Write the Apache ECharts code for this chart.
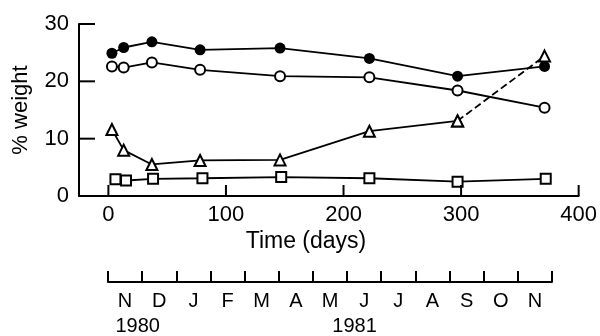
<!DOCTYPE html>
<html>
<head>
<meta charset="utf-8">
<script src="https://cdn.jsdelivr.net/npm/echarts@6/dist/echarts.min.js"></script>
<style>html,body{margin:0;padding:0;background:#fff}#c{width:600px;height:336px}</style>
</head>
<body>
<div id="c"></div>
<script>
var days = [3, 13, 37, 78, 146, 222, 297, 371];
var squareDays = [6, 15, 38, 80, 147, 222, 297, 372];
var filledCircle = [24.9, 25.9, 26.9, 25.5, 25.8, 24.0, 20.9, 22.6];
var openCircle = [22.6, 22.4, 23.3, 22.0, 20.9, 20.7, 18.4, 15.4];
var triangle = [11.6, 8.0, 5.5, 6.2, 6.3, 11.3, 13.1, 24.4];
var square = [2.9, 2.7, 3.0, 3.1, 3.3, 3.1, 2.5, 3.0];
var dayTicks = [0, 100, 200, 300, 400];
var weightTicks = [10, 20, 30];
var months = ['N', 'D', 'J', 'F', 'M', 'A', 'M', 'J', 'J', 'A', 'S', 'O', 'N'];
var yearLabels = ['1980', '1981'];
var yearPos = [0.87, 7.22];
var X_MIN = -25, X_MAX = 400, Y_MIN = 0, Y_MAX = 30;

var FONT = '"Liberation Sans", Arial, sans-serif';
function pairs(xs, ys) { return xs.map(function (x, i) { return [x, ys[i]]; }); }
var tri = pairs(days, triangle);

function tickSeries(data, horizontal, len) {
  return {
    type: 'custom', xAxisIndex: 0, yAxisIndex: 0, data: data, z: 20, clip: false, silent: true,
    renderItem: function (params, api) {
      var p = api.coord([api.value(0), api.value(1)]);
      var shape = horizontal
        ? { x1: p[0], y1: p[1], x2: p[0] + len, y2: p[1] }
        : { x1: p[0], y1: p[1], x2: p[0], y2: p[1] - len };
      return { type: 'line', shape: shape, style: { stroke: '#000', lineWidth: 2 } };
    }
  };
}

var chart = echarts.init(document.getElementById('c'));
chart.setOption({
  animation: false,
  backgroundColor: '#fff',
  grid: [
    { left: 79, top: 24, width: 500, height: 172 },
    { left: 108, top: 262, width: 444, height: 20 }
  ],
  xAxis: [
    {
      gridIndex: 0, type: 'value', min: X_MIN, max: X_MAX,
      axisLine: { onZero: false, lineStyle: { color: '#000', width: 2 } },
      axisTick: { show: false },
      axisLabel: { customValues: dayTicks, color: '#000', fontSize: 22, fontFamily: FONT, margin: 8 },
      splitLine: { show: false }
    },
    {
      gridIndex: 1, type: 'category', data: months, boundaryGap: true,
      axisLine: { lineStyle: { color: '#000', width: 2 } },
      axisTick: { show: true, interval: 0, inside: true, length: 11, lineStyle: { color: '#000', width: 2 } },
      axisLabel: { interval: 0, color: '#000', fontSize: 20, fontFamily: FONT, margin: 9 },
      splitLine: { show: false }
    }
  ],
  yAxis: [
    {
      gridIndex: 0, type: 'value', min: Y_MIN, max: Y_MAX, interval: 10,
      name: '% weight', nameLocation: 'middle', nameGap: 47,
      nameTextStyle: { fontSize: 22, fontFamily: FONT, color: '#000' },
      axisLine: { show: true, onZero: false, lineStyle: { color: '#000', width: 2 } },
      axisTick: { show: false },
      axisLabel: { color: '#000', fontSize: 22, fontFamily: FONT, margin: 10 },
      splitLine: { show: false }
    },
    { gridIndex: 1, type: 'value', show: false }
  ],
  series: [
    {
      type: 'line', xAxisIndex: 0, yAxisIndex: 0, data: pairs(days, filledCircle),
      symbol: 'circle', symbolSize: 11,
      itemStyle: { color: '#000' }, lineStyle: { color: '#000', width: 1.8 }
    },
    {
      type: 'line', xAxisIndex: 0, yAxisIndex: 0, data: pairs(days, openCircle),
      symbol: 'emptyCircle', symbolSize: 10,
      itemStyle: { color: '#000', borderWidth: 1.8 }, lineStyle: { color: '#000', width: 1.8 }
    },
    {
      type: 'line', xAxisIndex: 0, yAxisIndex: 0, data: tri.slice(0, 7),
      symbol: 'emptyTriangle', symbolSize: 11,
      itemStyle: { color: '#000', borderWidth: 1.8 }, lineStyle: { color: '#000', width: 1.8 }
    },
    {
      type: 'line', xAxisIndex: 0, yAxisIndex: 0, data: tri.slice(6),
      symbol: 'emptyTriangle', symbolSize: 11,
      itemStyle: { color: '#000', borderWidth: 1.8 }, lineStyle: { color: '#000', width: 1.8, type: 'dashed' }
    },
    {
      type: 'line', xAxisIndex: 0, yAxisIndex: 0, data: pairs(squareDays, square),
      symbol: 'emptyRect', symbolSize: 10,
      itemStyle: { color: '#000', borderWidth: 1.8 }, lineStyle: { color: '#000', width: 1.8 }
    },
    tickSeries(dayTicks.map(function (v) { return [v, Y_MIN]; }), false, 11),
    tickSeries(weightTicks.map(function (v) { return [X_MIN, v]; }), true, 16)
  ]
});

var m0 = chart.convertToPixel({ xAxisIndex: 1 }, 0);
var m1 = chart.convertToPixel({ xAxisIndex: 1 }, 1);
var step = m1 - m0;
var texts = [
  { type: 'text', x: 306, y: 242, style: { text: 'Time (days)', font: '23px ' + FONT, fill: '#000', textAlign: 'center', textVerticalAlign: 'middle' } }
];
yearLabels.forEach(function (t, i) {
  texts.push({ type: 'text', x: m0 + (yearPos[i] - 0.5) * step, y: 326,
    style: { text: t, font: '20px ' + FONT, fill: '#000', textAlign: 'center', textVerticalAlign: 'middle' } });
});
chart.setOption({ graphic: texts });
</script>
</body>
</html>
